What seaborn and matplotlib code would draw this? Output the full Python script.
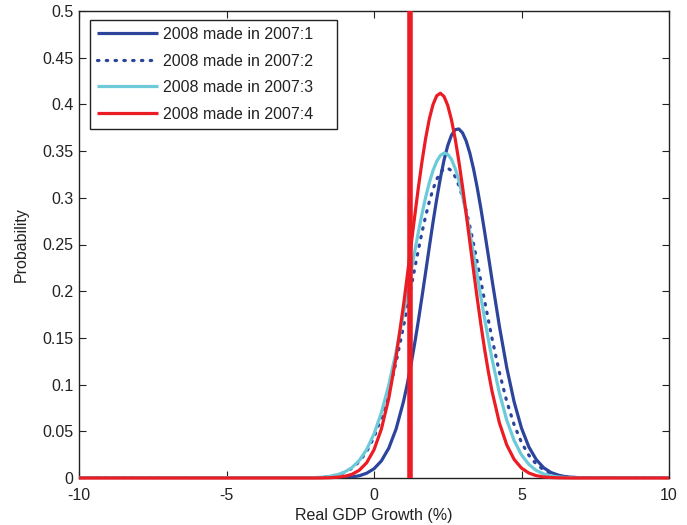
import matplotlib
matplotlib.use("Agg")
import matplotlib.pyplot as plt
import seaborn as sns
import pandas as pd

# ---- data ----
growth = [-10, -2, -1.75, -1.5, -1.25, -1, -0.75, -0.5, -0.25, 0, 0.25, 0.5, 0.75, 1,
          1.125, 1.25, 1.375, 1.5, 1.625, 1.75, 1.875, 2, 2.125, 2.25, 2.375, 2.5,
          2.625, 2.75, 2.875, 3, 3.125, 3.25, 3.375, 3.5, 3.625, 3.75, 3.875, 4,
          4.25, 4.5, 4.75, 5, 5.25, 5.5, 5.75, 6, 6.25, 6.5, 6.75, 7, 10]

q1 = [0, 0, 0, 0.0001, 0.0002, 0.0005, 0.0011, 0.0024, 0.0051, 0.0099, 0.0183, 0.0319,
      0.0526, 0.0819,
      0.1001, 0.1206, 0.1432, 0.1677, 0.1936, 0.2203, 0.2473, 0.2738, 0.2985, 0.3211,
      0.3405, 0.3560, 0.3669, 0.3729, 0.3737, 0.3696, 0.3608, 0.3477, 0.3308, 0.3107,
      0.2881, 0.2636, 0.2382, 0.2124,
      0.1626, 0.1182, 0.0815, 0.0534, 0.0332, 0.0197, 0.0110, 0.0059, 0.0030, 0.0014,
      0.0007, 0.0003, 0]

q2 = [0, 0.0004, 0.0008, 0.0017, 0.0033, 0.0059, 0.0104, 0.0175, 0.0282, 0.0435, 0.0644,
      0.0913, 0.1242, 0.1623,
      0.1824, 0.2030, 0.2235, 0.2436, 0.2627, 0.2803, 0.2959, 0.3092, 0.3197, 0.3271,
      0.3312, 0.3318, 0.3290, 0.3227, 0.3133, 0.3010, 0.2862, 0.2692, 0.2506, 0.2309,
      0.2104, 0.1898, 0.1695, 0.1497,
      0.1132, 0.0820, 0.0570, 0.0380, 0.0243, 0.0149, 0.0087, 0.0049, 0.0027, 0.0014,
      0.0007, 0.0003, 0]

q3 = [0, 0.0004, 0.0009, 0.0018, 0.0034, 0.0063, 0.0111, 0.0188, 0.0304, 0.0471, 0.0699,
      0.0994, 0.1352, 0.1762,
      0.1979, 0.2199, 0.2416, 0.2627, 0.2825, 0.3005, 0.3162, 0.3292, 0.3390, 0.3453,
      0.3479, 0.3466, 0.3412, 0.3317, 0.3186, 0.3022, 0.2833, 0.2623, 0.2398, 0.2167,
      0.1934, 0.1705, 0.1485, 0.1277,
      0.0911, 0.0619, 0.0401, 0.0247, 0.0145, 0.0081, 0.0043, 0.0022, 0.0011, 0.0005,
      0.0002, 0.0001, 0]

q4 = [0, 0, 0.0001, 0.0003, 0.0008, 0.0018, 0.0039, 0.0083, 0.0163, 0.0302, 0.0524,
      0.0852, 0.1298, 0.1850,
      0.2157, 0.2474, 0.2791, 0.3100, 0.3384, 0.3636, 0.3844, 0.3998, 0.4092, 0.4120,
      0.4084, 0.3989, 0.3836, 0.3636, 0.3394, 0.3121, 0.2828, 0.2524, 0.2218, 0.1921,
      0.1639, 0.1377, 0.1140, 0.0930,
      0.0591, 0.0354, 0.0199, 0.0106, 0.0053, 0.0025, 0.0011, 0.0005, 0.0002, 0.0001,
      0, 0, 0]

labels = ["2008 made in 2007:1", "2008 made in 2007:2",
          "2008 made in 2007:3", "2008 made in 2007:4"]
marker_value = 1.23

x_ticks = [-10, -5, 0, 5, 10]
y_ticks = [0, 0.05, 0.1, 0.15, 0.2, 0.25, 0.3, 0.35, 0.4, 0.45, 0.5]
y_ticklabels = ["0", "0.05", "0.1", "0.15", "0.2", "0.25", "0.3", "0.35", "0.4", "0.45", "0.5"]

# ---- styling ----
sns.set_theme(style="white")
plt.rcParams["font.family"] = ["Liberation Sans", "DejaVu Sans"]

colors = ["#2c449c", "#2c449c", "#6dcad9", "#ec1c24"]
styles = ["-", (0, (0.45, 2.3)), "-", "-"]

fig = plt.figure(figsize=(6.87, 5.25), dpi=100)
ax = fig.add_axes([79 / 687, 1 - 478 / 525, 590 / 687, 467 / 525])

series = [q1, q2, q3, q4]
for i, (vals, lab) in enumerate(zip(series, labels)):
    df = pd.DataFrame({"growth": growth, "prob": vals})
    sns.lineplot(data=df, x="growth", y="prob", ax=ax, color=colors[i], label=lab,
                 linestyle=styles[i], linewidth=2.3, dash_capstyle="round",
                 solid_capstyle="butt", solid_joinstyle="round", zorder=3 + i,
                 clip_on=(i != 3))

ax.axvline(marker_value, color="#ec1c24", linewidth=4.0, zorder=8)

ax.set_xlim(-10, 10)
ax.set_ylim(0, 0.5)
ax.set_xticks(x_ticks)
ax.set_xticklabels([str(t) for t in x_ticks])
ax.set_yticks(y_ticks)
ax.set_yticklabels(y_ticklabels)
ax.tick_params(direction="in", length=5, width=0.8, colors="#222222", labelsize=11.5,
               top=True, right=True, bottom=True, left=True, pad=4)
ax.tick_params(axis="x", pad=7)
for s in ax.spines.values():
    s.set_color("#222222")
    s.set_linewidth(1.0)

ax.set_xlabel("Real GDP Growth (%)", fontsize=11.5, color="#222222", labelpad=4)
ax.set_ylabel("Probability", fontsize=11.5, color="#222222", labelpad=10)

leg = ax.legend(loc="upper left", bbox_to_anchor=(0.019, 0.981, 0.418, 0.0),
                mode="expand", fontsize=11.5,
                frameon=True, fancybox=False, handlelength=3.8, handletextpad=0.3,
                borderpad=0.45, labelspacing=0.72, borderaxespad=0)
leg.get_frame().set_edgecolor("#222222")
leg.get_frame().set_linewidth(1.0)
leg.get_frame().set_alpha(1)
for t in leg.get_texts():
    t.set_color("#222222")

fig.savefig("out.png", dpi=100)
